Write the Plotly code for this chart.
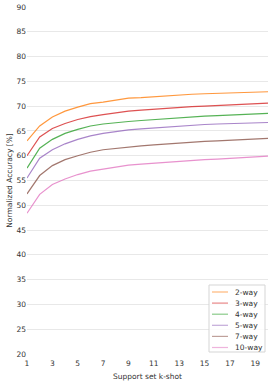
import plotly.graph_objects as go

k_shots = list(range(1, 21))
series_names = ["2-way", "3-way", "4-way", "5-way", "7-way", "10-way"]
acc_2way = [63.0, 66.0, 67.8, 69.0, 69.8, 70.5, 70.8, 71.2, 71.6, 71.7, 71.9, 72.1, 72.3, 72.4, 72.5, 72.6, 72.7, 72.75, 72.8, 72.9]
acc_3way = [60.0, 63.8, 65.5, 66.5, 67.3, 67.9, 68.3, 68.7, 69.0, 69.2, 69.4, 69.6, 69.75, 69.9, 70.0, 70.1, 70.2, 70.3, 70.45, 70.6]
acc_4way = [57.5, 61.5, 63.3, 64.5, 65.3, 66.0, 66.4, 66.7, 66.9, 67.1, 67.3, 67.5, 67.7, 67.85, 68.0, 68.1, 68.2, 68.3, 68.45, 68.55]
acc_5way = [55.5, 59.5, 61.2, 62.4, 63.3, 64.0, 64.5, 64.9, 65.2, 65.4, 65.6, 65.8, 66.0, 66.15, 66.3, 66.4, 66.5, 66.55, 66.6, 66.7]
acc_7way = [52.3, 56.0, 58.0, 59.2, 60.0, 60.7, 61.2, 61.5, 61.8, 62.0, 62.2, 62.4, 62.6, 62.8, 62.9, 63.0, 63.1, 63.25, 63.4, 63.5]
acc_10way = [48.4, 52.2, 54.2, 55.3, 56.2, 56.9, 57.3, 57.7, 58.1, 58.3, 58.5, 58.7, 58.9, 59.0, 59.2, 59.3, 59.45, 59.6, 59.75, 59.9]
x_ticks = [1, 3, 5, 7, 9, 11, 13, 15, 17, 19]
y_ticks = [20, 25, 30, 35, 40, 45, 50, 55, 60, 65, 70, 75, 80, 85, 90]

colors = ["#ff7f0e", "#d62728", "#2ca02c", "#9467bd", "#8c564b", "#e377c2"]
all_series = [acc_2way, acc_3way, acc_4way, acc_5way, acc_7way, acc_10way]

W, H = 273, 382
ML, MR, MT, MB = 27, 5, 7, 28
PW, PH = W - ML - MR, H - MT - MB

def px_x(px):
    return (px - ML) / PW

def px_y(py):
    return (H - MB - py) / PH

fig = go.Figure()
for name, vals, c in zip(series_names, all_series, colors):
    fig.add_trace(go.Scatter(x=k_shots, y=vals, mode="lines", name=name,
                             opacity=0.8, line=dict(color=c, width=1.2)))

# compact legend (matplotlib style)
shapes = [dict(type="rect", xref="paper", yref="paper",
               x0=px_x(209), x1=px_x(265), y0=px_y(352), y1=px_y(285),
               line=dict(color="#d5d5d5", width=1), fillcolor="rgba(255,255,255,0.85)",
               layer="above")]
annotations = []
for i, (name, c) in enumerate(zip(series_names, colors)):
    yy = px_y(292 + 11.1 * i)
    shapes.append(dict(type="line", xref="paper", yref="paper",
                       x0=px_x(212), x1=px_x(228), y0=yy, y1=yy,
                       line=dict(color=c, width=1.2), opacity=0.55, layer="above"))
    annotations.append(dict(text=name, xref="paper", yref="paper", x=px_x(233), y=yy,
                            xanchor="left", yanchor="middle", showarrow=False,
                            font=dict(size=7.5, color="#333333")))

fig.update_layout(
    width=W, height=H,
    margin=dict(l=ML, r=MR, t=MT, b=MB),
    paper_bgcolor="white", plot_bgcolor="white",
    font=dict(family="DejaVu Sans", size=7.5, color="#333333"),
    showlegend=False,
    shapes=shapes, annotations=annotations,
)
fig.update_xaxes(range=[1, 20], tickvals=x_ticks, showgrid=False, zeroline=False,
                 showline=False, ticks="", tickfont=dict(size=7.5), automargin=False,
                 ticklabelstandoff=3,
                 title=dict(text="Support set k-shot", font=dict(size=7.5), standoff=7))
fig.update_yaxes(range=[20, 90], tickvals=y_ticks, showgrid=True, gridcolor="#e8e8e8",
                 gridwidth=1, zeroline=False, showline=False, ticks="", tickfont=dict(size=7.5),
                 automargin=False,
                 title=dict(text="Normalized Accuracy [%]", font=dict(size=7.5), standoff=2))

fig.write_html("out.html", config={"displayModeBar": False},
               post_script="document.body.style.margin='0';")
